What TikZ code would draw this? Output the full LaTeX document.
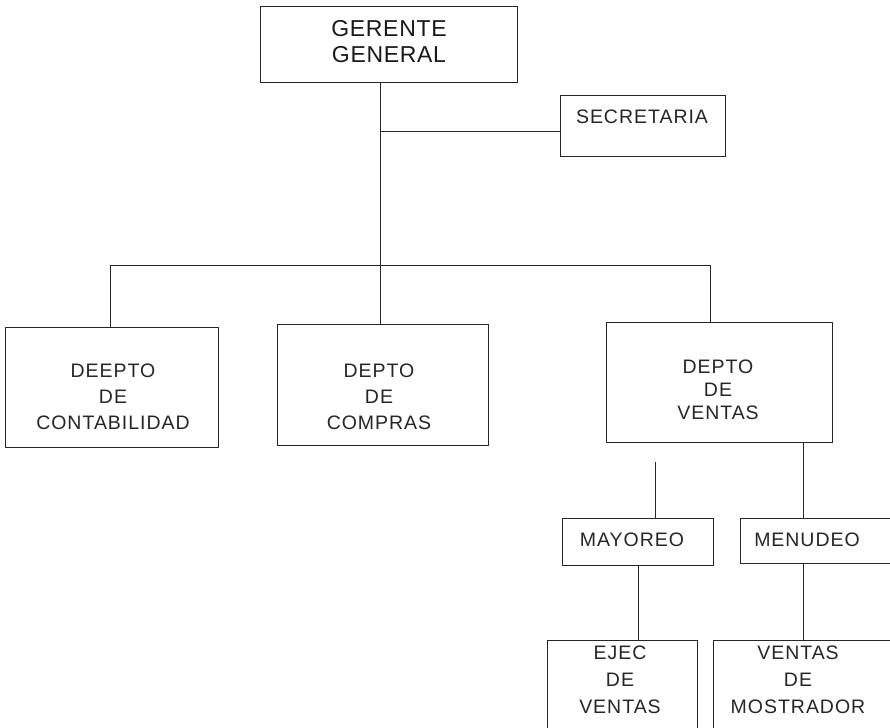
\documentclass[tikz,border=0pt]{standalone}
\usepackage{fontspec}
\setmainfont{Liberation Sans}
\newfontfamily\spacedfont[LetterSpace=5]{Liberation Sans}
\newfontfamily\bigspacedfont[LetterSpace=3]{Liberation Sans}
\begin{document}
\begin{tikzpicture}[x=1pt,y=-1pt,
  box/.style={draw=black!85, line width=0.8pt, inner sep=0pt, outer sep=0pt},
  lbl/.style={inner sep=0pt, align=center, font=\spacedfont\fontsize{19.5}{26}\selectfont, text=black!85},
  big/.style={inner sep=0pt, align=center, font=\bigspacedfont\fontsize{23}{26}\selectfont, text=black!90},
  link/.style={draw=black!85, line width=0.8pt}]
\clip (0,0) rectangle (890,727);
\fill[white] (0,0) rectangle (890,727);

% boxes
\node[box, minimum width=257pt, minimum height=76pt] (gg) at (388.5,44) {};
\node[box, minimum width=165pt, minimum height=61pt] (sec) at (642.5,125.5) {};
\node[box, minimum width=213pt, minimum height=120pt] (cont) at (111.5,387) {};
\node[box, minimum width=211pt, minimum height=121pt] (comp) at (382.5,384.5) {};
\node[box, minimum width=226pt, minimum height=120pt] (vent) at (719,382) {};
\node[box, minimum width=151pt, minimum height=47pt] (may) at (637.5,541.5) {};
\node[box, minimum width=160pt, minimum height=45pt] (men) at (820,540.5) {};
\node[box, minimum width=150pt, minimum height=100pt] (ejec) at (622,690) {};
\node[box, minimum width=187pt, minimum height=100pt] (most) at (806.5,690) {};

% texts
\node[big] (tgg) at (389,42) {GERENTE\\GENERAL};
\node[lbl] (tsec) at (642,117) {SECRETARIA};
\node[lbl] (tcont) at (113,397) {DEEPTO\\DE\\CONTABILIDAD};
\node[lbl] (tcomp) at (379,397) {DEPTO\\DE\\COMPRAS};
\node[lbl, font=\spacedfont\fontsize{19.5}{23}\selectfont] (tvent) at (718,390) {DEPTO\\DE\\VENTAS};
\node[lbl] (tmay) at (632,540) {MAYOREO};
\node[lbl] (tmen) at (807,540) {MENUDEO};
\node[lbl, font=\spacedfont\fontsize{19.5}{27}\selectfont] (tejec) at (620,680) {EJEC\\DE\\VENTAS};
\node[lbl, font=\spacedfont\fontsize{19.5}{27}\selectfont] (tmost) at (798,680) {VENTAS\\DE\\MOSTRADOR};

% junction coordinates
\coordinate (j1) at (380,131);
\coordinate (bar) at (380,265);
\coordinate (barR) at (710,265);
\coordinate (vR) at (803,442);
\coordinate (vL) at (655,462);
\coordinate (mL) at (638,565);
\coordinate (mR) at (803,563);

% connectors
\draw[link] (gg.south -| j1) -- (bar);
\draw[link] (j1) -- (j1 -| sec.west);
\draw[link] (cont.north -| 110,0) |- (barR) -- (barR |- vent.north);
\draw[link] (bar) -- (bar |- comp.north);
\draw[link] (vR) -- (vR |- men.north);
\draw[link] (vL) -- (vL |- may.north);
\draw[link] (mL) -- (mL |- ejec.north);
\draw[link] (mR) -- (mR |- most.north);
\end{tikzpicture}
\end{document}
